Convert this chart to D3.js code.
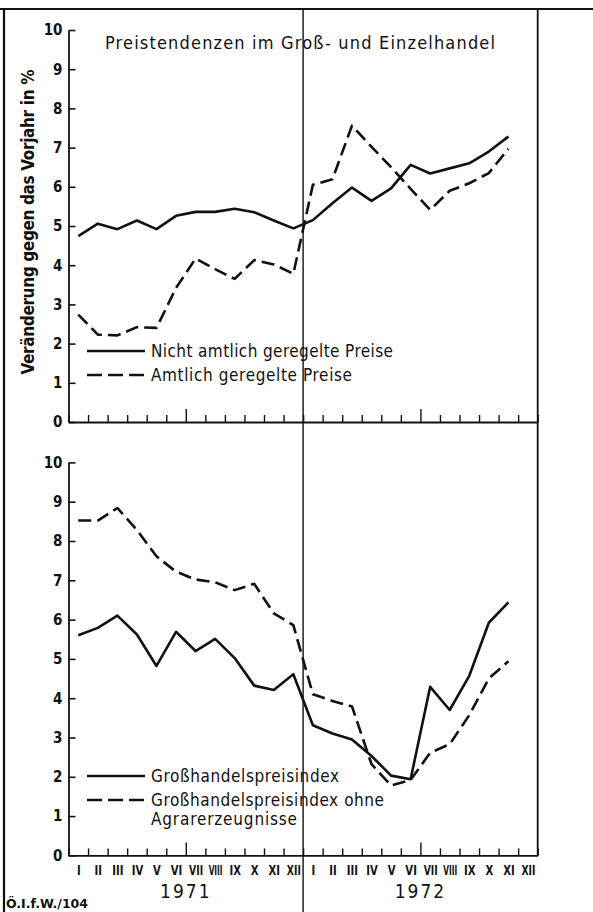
<!DOCTYPE html>
<html><head><meta charset="utf-8">
<script src="https://cdn.jsdelivr.net/npm/d3@7"></script>
<style>html,body{margin:0;padding:0;background:#fff}svg{display:block}</style>
</head><body>
<svg id="chart" width="593" height="912"></svg>
<script>
// ---- data ----
const monthLabels = ["I","II","III","IV","V","VI","VII","VIII","IX","X","XI","XII"];
const years = ["1971","1972"];
const yTicks = [0,1,2,3,4,5,6,7,8,9,10];
const topTitle = "Preistendenzen im Groß- und Einzelhandel";
const yLabel = "Veränderung gegen das Vorjahr in %";
// top panel (Jan 1971 .. Nov 1972)
const nichtAmtlich = [4.74,5.06,4.92,5.14,4.92,5.26,5.36,5.36,5.44,5.35,5.14,4.94,
                      5.15,5.58,5.98,5.64,5.96,6.56,6.34,6.47,6.60,6.90,7.28];
const amtlich      = [2.74,2.23,2.21,2.42,2.40,3.42,4.17,3.90,3.65,4.13,4.02,3.78,
                      6.05,6.19,7.56,7.02,6.50,5.95,5.41,5.90,6.09,6.35,6.97];
// bottom panel
const grosshandel  = [5.60,5.79,6.10,5.62,4.82,5.69,5.20,5.51,5.02,4.32,4.21,4.61,
                      3.31,3.10,2.95,2.53,2.03,1.94,4.29,3.70,4.57,5.92,6.44];
const ohneAgrar    = [8.52,8.52,8.84,8.28,7.61,7.22,7.02,6.95,6.75,6.91,6.16,5.86,
                      4.10,3.93,3.79,2.32,1.78,1.92,2.61,2.83,3.57,4.50,4.94];
const topLegend = ["Nicht amtlich geregelte Preise","Amtlich geregelte Preise"];
const bottomLegend = ["Großhandelspreisindex","Großhandelspreisindex ohne","Agrarerzeugnisse"];
const footer = "Ö.I.f.W./104";

// ---- layout ----
const svg = d3.select("#chart");
const FONT = "'DejaVu Sans Condensed', 'DejaVu Sans', sans-serif";
const x = d3.scaleLinear().domain([0,24]).range([68.5,537.7]);
const yTop = d3.scaleLinear().domain([0,10]).range([422,30]);
const yBot = d3.scaleLinear().domain([0,10]).range([855.4,462.4]);
const ink = "#111";

// frame
svg.append("line").attr("x1",0).attr("x2",593).attr("y1",9).attr("y2",9).attr("stroke",ink).attr("stroke-width",2);
svg.append("line").attr("x1",4).attr("x2",4).attr("y1",9).attr("y2",912).attr("stroke",ink).attr("stroke-width",2.2);
svg.append("line").attr("x1",x(12)).attr("x2",x(12)).attr("y1",9).attr("y2",912).attr("stroke",ink).attr("stroke-width",1.4);
svg.append("line").attr("x1",x(24)).attr("x2",x(24)).attr("y1",9).attr("y2",yBot(0)).attr("stroke",ink).attr("stroke-width",1.8);

function panel(y, s1, s2) {
  const g = svg.append("g");
  const ya = g.append("g").attr("transform",`translate(${x(0)},0)`)
    .call(d3.axisLeft(y).tickValues(yTicks).tickSizeInner(-7).tickSizeOuter(0).tickPadding(6));
  ya.select(".domain").attr("stroke",ink).attr("stroke-width",1.8);
  ya.selectAll(".tick line").attr("stroke",ink).attr("stroke-width",1.6);
  ya.selectAll("text").attr("font-family",FONT).attr("font-weight","bold").attr("font-size",15).attr("fill",ink);
  const xa = g.append("g").attr("transform",`translate(0,${y(0)})`)
    .call(d3.axisBottom(x).tickValues(d3.range(0,25)).tickSizeInner(-7).tickSizeOuter(0).tickFormat(""));
  xa.select(".domain").attr("stroke",ink).attr("stroke-width",1.8);
  xa.selectAll(".tick line").attr("stroke",ink).attr("stroke-width",1.4)
    .attr("y2", d => (d===6||d===18) ? -13 : -7);
  const line = d3.line().x((d,i)=>x(i+0.5)).y(d=>y(d));
  g.append("path").datum(s1).attr("d",line).attr("fill","none").attr("stroke",ink)
    .attr("stroke-width",2.6).attr("stroke-linejoin","round");
  g.append("path").datum(s2).attr("d",line).attr("fill","none").attr("stroke",ink)
    .attr("stroke-width",2.6).attr("stroke-dasharray","13,6").attr("stroke-linejoin","round");
  return g;
}
panel(yTop, nichtAmtlich, amtlich);
panel(yBot, grosshandel, ohneAgrar);

// month labels (tall, narrow: horizontally squeezed)
const mlab = svg.append("g").attr("transform",`translate(0,${yBot(0)+4})`)
  .call(d3.axisBottom(x).tickValues(d3.range(0,24).map(i=>i+0.5)).tickSize(0).tickPadding(6)
    .tickFormat((d,i)=>monthLabels[i%12]));
mlab.select(".domain").remove();
mlab.selectAll("text").attr("font-family",FONT).attr("font-weight","bold")
  .attr("font-size",14).attr("fill",ink)
  .each(function(){
    const w = this.getComputedTextLength();
    const maxW = 14;
    const s = Math.min(0.8, maxW / w);
    d3.select(this).attr("transform",`scale(${s},1)`);
  });
// years
svg.selectAll("text.year").data(years).enter().append("text").attr("class","year")
  .attr("x",(d,i)=>x(i*12+6)).attr("y",898).attr("text-anchor","middle")
  .attr("font-family",FONT).attr("font-size",19).attr("letter-spacing",2).attr("fill",ink).text(d=>d);
// footer
svg.append("text").attr("x",6).attr("y",908).attr("font-family",FONT)
  .attr("font-weight","bold").attr("font-size",12).attr("textLength",82).attr("lengthAdjust","spacingAndGlyphs")
  .attr("fill",ink).text(footer);

// title
svg.append("text").attr("x",105).attr("y",49).attr("font-family",FONT).attr("font-size",18)
  .attr("textLength",390).attr("lengthAdjust","spacing").attr("fill",ink).text(topTitle);
// y label
svg.append("text").attr("transform","translate(34,222) rotate(-90)").attr("text-anchor","middle")
  .attr("font-family",FONT).attr("font-weight","bold").attr("font-size",17)
  .attr("textLength",305).attr("lengthAdjust","spacing").attr("fill",ink).text(yLabel);

// legends
function legendRow(yPos, dashed, label, width) {
  if (dashed !== null) {
    svg.append("line").attr("x1",87).attr("x2",145).attr("y1",yPos).attr("y2",yPos)
      .attr("stroke",ink).attr("stroke-width",2.6).attr("stroke-dasharray",dashed?"15,6":null);
  }
  svg.append("text").attr("x",151).attr("y",yPos+6).attr("font-family",FONT).attr("font-size",17)
    .attr("textLength",width).attr("lengthAdjust","spacing").attr("fill",ink).text(label);
}
legendRow(351,false,topLegend[0],242);
legendRow(375,true,topLegend[1],201);
legendRow(776,false,bottomLegend[0],188);
legendRow(800,true,bottomLegend[1],233);
legendRow(819,null,bottomLegend[2],146);
</script>
</body></html>
